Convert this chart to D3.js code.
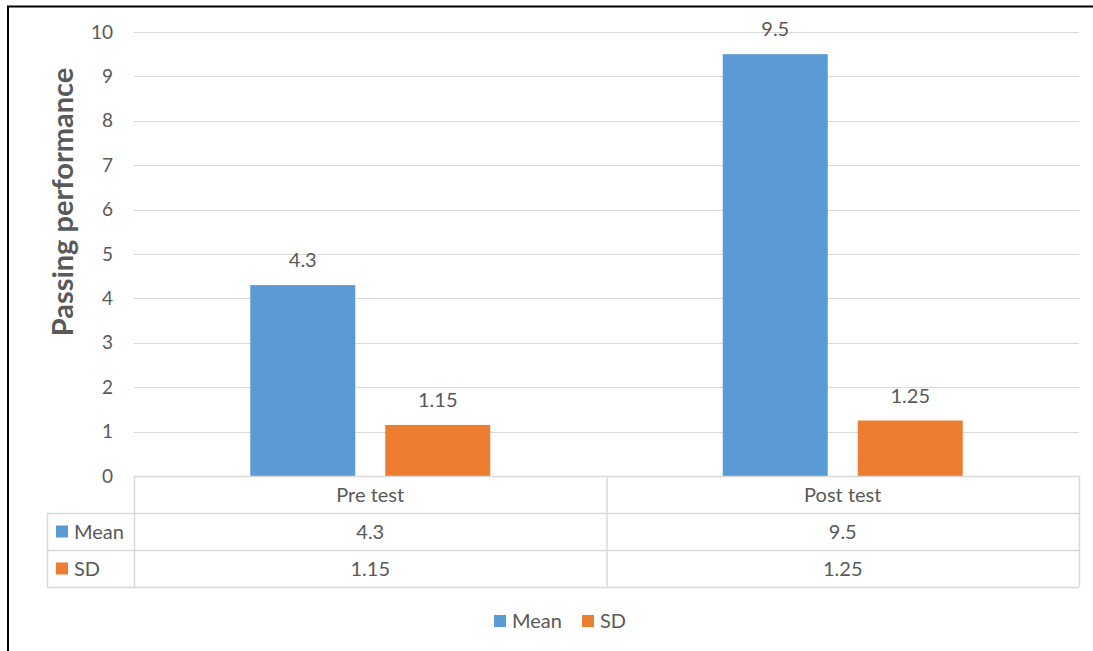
<!DOCTYPE html>
<html>
<head>
<meta charset="utf-8">
<script src="https://d3js.org/d3.v7.min.js"></script>
<style>
  html, body { margin: 0; padding: 0; background: #fff; }
  svg { display: block; }
  text { font-family: Lato, "Open Sans", sans-serif; fill: #595959; }
</style>
</head>
<body>
<svg id="chart" width="1093" height="651"></svg>
<script>
// Chart data
const categories = ["Pre test", "Post test"];
const seriesNames = ["Mean", "SD"];
const meanValues = [4.3, 9.5];
const sdValues = [1.15, 1.25];
const yTicks = [0, 1, 2, 3, 4, 5, 6, 7, 8, 9, 10];
const yTitle = "Passing performance";

const colors = { Mean: "#5B9BD5", SD: "#ED7D31" };
const seriesValues = { Mean: meanValues, SD: sdValues };

const svg = d3.select("#chart");
const W = 1093, H = 651;
const fs = 20;

// Frame lines (top and left)
svg.append("line").attr("x1", 7).attr("x2", W).attr("y1", 6.5).attr("y2", 6.5)
  .attr("stroke", "#000").attr("stroke-width", 2);
svg.append("line").attr("x1", 8).attr("x2", 8).attr("y1", 6).attr("y2", H)
  .attr("stroke", "#000").attr("stroke-width", 2);

const plot = { left: 134, right: 1079, top: 32, bottom: 476 };

const y = d3.scaleLinear().domain([0, 10]).range([plot.bottom, plot.top]);
const x0 = d3.scaleBand().domain(categories).range([plot.left, plot.right]);
const bw = x0.bandwidth();
const x1 = d3.scaleBand().domain(seriesNames)
  .range([bw / 2 - 120, bw / 2 + 120]).paddingInner(30 / 135);

// Gridlines
svg.append("g").selectAll("line").data(yTicks.filter(d => d > 0)).join("line")
  .attr("x1", plot.left).attr("x2", plot.right)
  .attr("y1", d => Math.round(y(d)) + 0.5).attr("y2", d => Math.round(y(d)) + 0.5)
  .attr("stroke", "#D9D9D9").attr("stroke-width", 1);

// Y tick labels
svg.append("g").selectAll("text").data(yTicks).join("text")
  .attr("x", 113).attr("y", d => y(d)).attr("dy", "0.35em")
  .attr("text-anchor", "end").attr("font-size", 19).text(d => d);

// Y title
svg.append("text")
  .attr("transform", `translate(73,202) rotate(-90)`)
  .attr("text-anchor", "middle").attr("font-size", 29).attr("font-weight", "bold")
  .text(yTitle);

// Bars
const barData = [];
categories.forEach((c, i) => seriesNames.forEach(s => barData.push({ c, s, v: seriesValues[s][i] })));

svg.append("g").selectAll("rect").data(barData).join("rect")
  .attr("x", d => x0(d.c) + x1(d.s))
  .attr("y", d => y(d.v))
  .attr("width", x1.bandwidth())
  .attr("height", d => y(0) - y(d.v))
  .attr("fill", d => colors[d.s]);

// Value labels
svg.append("g").selectAll("text").data(barData).join("text")
  .attr("x", d => x0(d.c) + x1(d.s) + x1.bandwidth() / 2)
  .attr("y", d => y(d.v) - 18)
  .attr("text-anchor", "middle").attr("font-size", fs)
  .text(d => d.v);

// Data table
const tableLeft = 47;
const rowY = [476, 513, 550, 587];
const gridColor = "#D9D9D9";
const tg = svg.append("g");

// Horizontal lines
tg.append("line").attr("x1", plot.left).attr("x2", plot.right).attr("y1", rowY[0] + 0.5).attr("y2", rowY[0] + 0.5)
  .attr("stroke", gridColor).attr("stroke-width", 1.5);
[rowY[1], rowY[2], rowY[3]].forEach(yy => {
  tg.append("line").attr("x1", tableLeft).attr("x2", plot.right).attr("y1", yy + 0.5).attr("y2", yy + 0.5)
    .attr("stroke", gridColor).attr("stroke-width", 1.5);
});
// Vertical lines
const vLines = [plot.left, plot.left + bw, plot.right];
vLines.forEach(xx => {
  tg.append("line").attr("x1", xx + 0.5).attr("x2", xx + 0.5).attr("y1", rowY[0]).attr("y2", rowY[3])
    .attr("stroke", gridColor).attr("stroke-width", 1.5);
});
tg.append("line").attr("x1", tableLeft + 0.5).attr("x2", tableLeft + 0.5).attr("y1", rowY[1]).attr("y2", rowY[3])
  .attr("stroke", gridColor).attr("stroke-width", 1.5);

// Category header row
tg.selectAll("text.cat").data(categories).join("text").attr("class", "cat")
  .attr("x", d => x0(d) + bw / 2).attr("y", (rowY[0] + rowY[1]) / 2).attr("dy", "0.35em")
  .attr("text-anchor", "middle").attr("font-size", fs).text(d => d);

// Series rows
seriesNames.forEach((s, si) => {
  const cy = (rowY[si + 1] + rowY[si + 2]) / 2;
  tg.append("rect").attr("x", 56).attr("y", cy - 6).attr("width", 12).attr("height", 12).attr("fill", colors[s]);
  tg.append("text").attr("x", 74).attr("y", cy).attr("dy", "0.35em").attr("font-size", fs).text(s);
  tg.selectAll(null).data(categories).join("text")
    .attr("x", d => x0(d) + bw / 2).attr("y", cy).attr("dy", "0.35em")
    .attr("text-anchor", "middle").attr("font-size", fs)
    .text((d, i) => seriesValues[s][i]);
});

// Legend
const legendX = [494, 582];
const lg = svg.append("g");
seriesNames.forEach((s, i) => {
  lg.append("rect").attr("x", legendX[i]).attr("y", 615).attr("width", 12).attr("height", 12).attr("fill", colors[s]);
  lg.append("text").attr("x", legendX[i] + 18).attr("y", 621).attr("dy", "0.35em").attr("font-size", fs).text(s);
});
</script>
</body>
</html>
